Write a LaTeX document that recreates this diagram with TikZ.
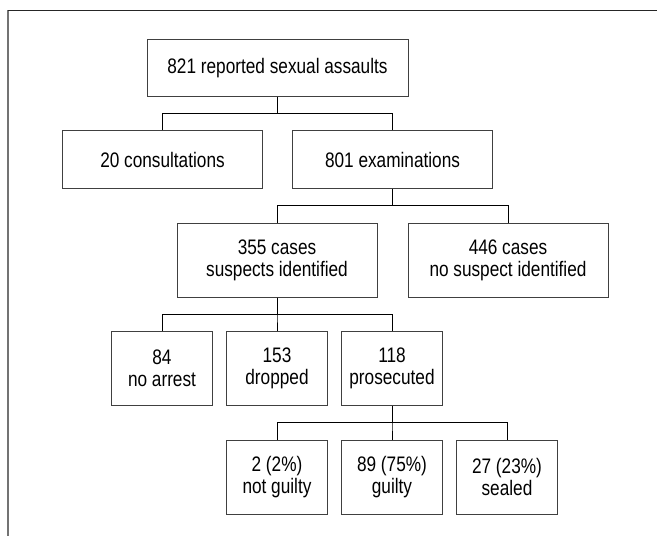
\documentclass[tikz,border=0pt]{standalone}
\usepackage{fontspec}
\setmainfont[FakeStretch=0.82]{Liberation Sans}

\begin{document}
\begin{tikzpicture}[x=1pt, y=1pt,
    level distance=33.5pt, growth parent anchor=south,
    level 1/.style={sibling distance=230pt},
    level 2/.style={sibling distance=231pt},
    level 3/.style={sibling distance=115pt},
    level 4/.style={sibling distance=115pt},
    edge from parent/.style={draw, black, line width=0.9pt},
    edge from parent path={(\tikzparentnode.south) -- ++(0,-16.5pt) -| (\tikzchildnode.north)},
    every node/.style = {shape=rectangle, draw=black!75, line width=0.9pt,
      align=center, anchor=north, inner sep=0pt,
      font=\fontsize{21}{22}\selectfont},
    topbox/.style={minimum width=261pt, minimum height=57pt},
    widebox/.style={minimum width=200pt, minimum height=58pt},
    tallbox/.style={minimum width=200pt, minimum height=74pt},
    smallbox/.style={minimum width=101pt, minimum height=74pt}]
    \useasboundingbox (0,0) rectangle (657,-536);
    % frame
    \draw[black!55, line width=1.6pt] (8,-10) -- (8,-540);
    \draw[black!85, line width=1pt] (8,-10) -- (660,-10);
    \node[topbox] (reported) at (277.5,-39) {821 reported sexual assaults}
      child { node[widebox] (consult) {20 consultations} }
      child { node[widebox] (exam) {801 examinations}
        child { node[tallbox] (suspect) {355 cases\\suspects identified}
          child { node[smallbox] (noarrest) {84\\no arrest} }
          child { node[smallbox] (dropped) {153\\dropped} }
          child { node[smallbox] (prosec) {118\\prosecuted}
            child { node[smallbox] (notguilty) {2 (2\%)\\not guilty} }
            child { node[smallbox] (guilty) {89 (75\%)\\guilty} }
            child { node[smallbox] (sealed) {27 (23\%)\\sealed} } } }
        child { node[tallbox] (nosuspect) {446 cases\\no suspect identified} } };
\end{tikzpicture}
\end{document}
